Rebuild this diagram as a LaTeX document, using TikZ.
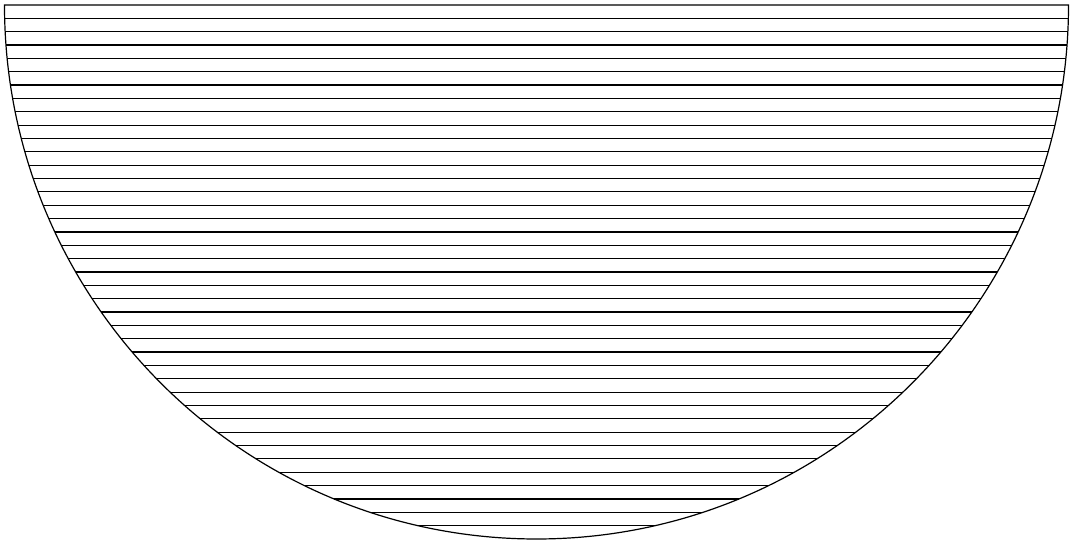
\documentclass[tikz,border=0pt]{standalone}
\begin{document}
\begin{tikzpicture}[x=0.5pt,y=0.5pt,
  rim/.style={draw=black,line width=0.6pt},
  chord/.style={draw=black,line width=0.6pt}]
\useasboundingbox (0,0) rectangle (1071,544);
\coordinate (tl) at (4.5,539);
\coordinate (tr) at (1068.5,539);
\draw[rim] (tl) -- (tr) arc[start angle=0,end angle=-180,x radius=532,y radius=534] -- cycle;
\foreach \i in {1,...,39}{
  \pgfmathsetmacro\hw{532*sqrt(1-\i*\i/1600)}
  \pgfmathsetmacro\yc{539-13.35*\i}
  \draw[chord] ({536.5-\hw},\yc) -- ({536.5+\hw},\yc);
}
\end{tikzpicture}
\end{document}
